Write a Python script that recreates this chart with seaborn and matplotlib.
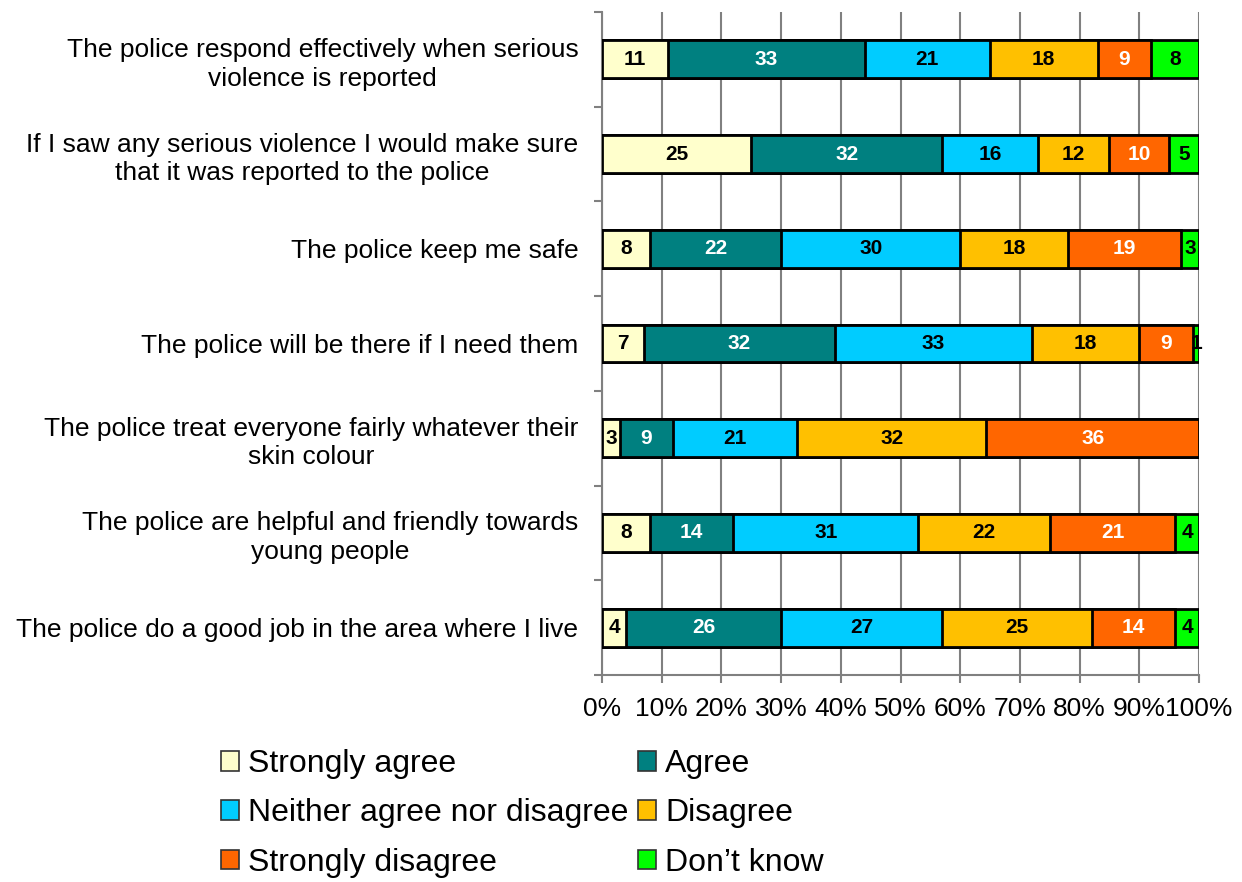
import numpy as np
import pandas as pd
import matplotlib
matplotlib.use("Agg")
import matplotlib.pyplot as plt
from matplotlib.patches import Patch
from matplotlib.ticker import FixedLocator
import seaborn as sns

statements = [
    "The police respond effectively when serious\nviolence is reported",
    "If I saw any serious violence I would make sure\nthat it was reported to the police",
    "The police keep me safe",
    "The police will be there if I need them",
    "The police treat everyone fairly whatever their\nskin colour",
    "The police are helpful and friendly towards\nyoung people",
    "The police do a good job in the area where I live",
]
responses = ["Strongly agree", "Agree", "Neither agree nor disagree",
             "Disagree", "Strongly disagree", "Don\u2019t know"]

strongly_agree = [11, 25, 8, 7, 3, 8, 4]
agree = [33, 32, 22, 32, 9, 14, 26]
neither = [21, 16, 30, 33, 21, 31, 27]
disagree = [18, 12, 18, 18, 32, 22, 25]
strongly_disagree = [9, 10, 19, 9, 36, 21, 14]
dont_know = [8, 5, 3, 1, 0, 4, 4]

colors = ["#FFFFCC", "#008080", "#00CCFF", "#FFC000", "#FF6600", "#00FF00"]
text_colors = ["black", "white", "black", "black", "white", "black"]

sns.set_theme(style="white")
plt.rcParams["font.family"] = ["Liberation Sans", "DejaVu Sans"]
plt.rcParams["text.color"] = "black"
plt.rcParams["xtick.color"] = "black"
plt.rcParams["ytick.color"] = "black"

values = np.array([strongly_agree, agree, neither, disagree,
                   strongly_disagree, dont_know], dtype=float)
shares = values / values.sum(axis=0) * 100
cum = np.cumsum(shares, axis=0)

fig = plt.figure(figsize=(12.42, 8.82), dpi=100)
ax = fig.add_axes([0.4847, 0.2347, 0.4807, 0.7517])

# Stacked bars: draw cumulative totals from the last segment back to the first
for i in range(len(responses) - 1, -1, -1):
    df = pd.DataFrame({"statement": statements, "cum": cum[i]})
    sns.barplot(data=df, x="cum", y="statement", orient="h", color=colors[i],
                saturation=1, width=0.4, edgecolor="black", linewidth=2,
                ax=ax, zorder=3)

# Segment value labels
num_font = ["Liberation Sans Narrow", "Liberation Sans", "DejaVu Sans"]
for i in range(len(responses)):
    starts = cum[i] - shares[i]
    for j in range(len(statements)):
        if values[i, j] <= 0:
            continue
        ax.text(starts[j] + shares[i, j] / 2, j, f"{int(values[i, j])}",
                ha="center", va="center", fontsize=15, fontweight="bold",
                color=text_colors[i], family=num_font, zorder=5)

ax.set_xlim(0, 100)
ax.set_ylim(len(statements) - 0.5, -0.5)
ax.set_xticks(np.arange(0, 101, 10))
ax.set_xticklabels([f"{t}%" for t in range(0, 101, 10)], fontsize=19)
ax.set_yticks(range(len(statements)))
ax.set_yticklabels(statements, fontsize=19, multialignment="center",
                   linespacing=1.25)
ax.yaxis.set_minor_locator(FixedLocator(np.arange(-0.5, len(statements), 1)))
ax.tick_params(axis="y", which="major", length=0, pad=17)
ax.tick_params(axis="y", which="minor", length=6, width=1.5, color="#808080",
               direction="out", left=True)
ax.tick_params(axis="x", which="major", length=6, width=1.5, color="#808080",
               labelcolor="black", direction="out", bottom=True, pad=10)
ax.set_xlabel("")
ax.set_ylabel("")

ax.grid(axis="x", color="#808080", linewidth=1.5, zorder=0)
ax.set_axisbelow(True)
for side in ["top", "right"]:
    ax.spines[side].set_visible(False)
for side in ["left", "bottom"]:
    ax.spines[side].set_color("#808080")
    ax.spines[side].set_linewidth(1.5)

# Legend laid out row by row in two columns
handles = [Patch(facecolor=c, edgecolor="#333333", linewidth=1.2, label=r)
           for c, r in zip(colors, responses)]
order = [0, 2, 4, 1, 3, 5]
ax.legend([handles[k] for k in order], [responses[k] for k in order],
          ncol=2, loc="upper left", bbox_to_anchor=(-0.638, -0.112),
          frameon=False, fontsize=23, handlelength=0.55, handleheight=0.55,
          handletextpad=0.3, columnspacing=0.3, labelspacing=0.6,
          borderaxespad=0, borderpad=0)

fig.savefig("out.png", dpi=100)
